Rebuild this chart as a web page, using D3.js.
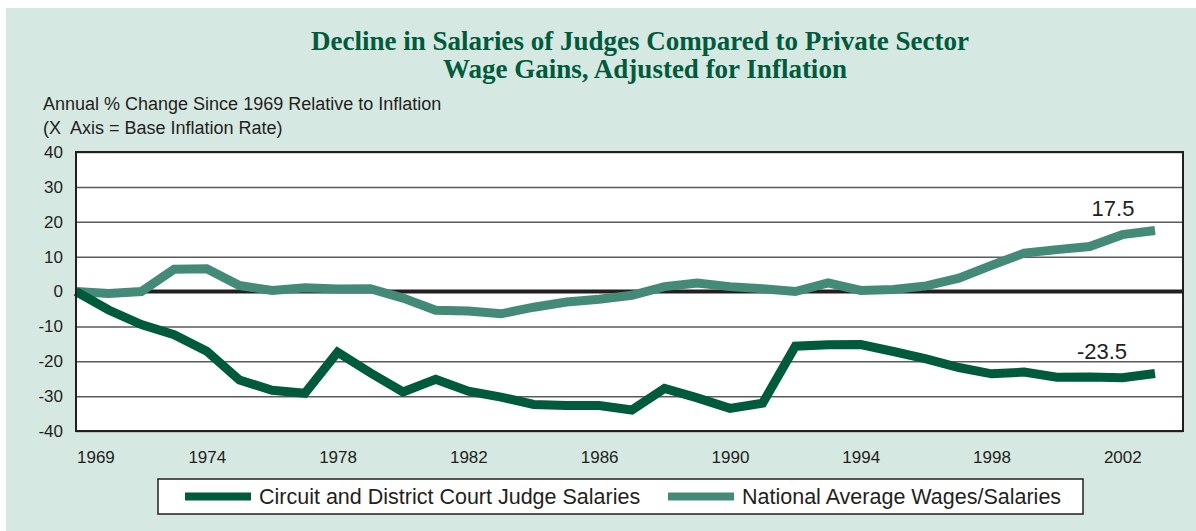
<!DOCTYPE html>
<html>
<head>
<meta charset="utf-8">
<script src="https://cdn.jsdelivr.net/npm/d3@7"></script>
<style>
  body { margin: 0; background: #fff; }
  svg text { font-family: "Liberation Sans", Arial, sans-serif; fill: #231f20; }
  .title { font-family: "Liberation Serif", "Times New Roman", serif; font-weight: bold; fill: #005a3c; }
</style>
</head>
<body>
<div id="chart"></div>
<script>
// data
var years = [1970, 1971, 1972, 1973, 1974, 1975, 1976, 1977, 1978, 1979,
             1980, 1981, 1982, 1983, 1984, 1985, 1986, 1987, 1988, 1989,
             1990, 1991, 1992, 1993, 1994, 1995, 1996, 1997, 1998, 1999,
             2000, 2001, 2002, 2003];
var judgeSalaries = [0, -5.3, -9.5, -12.4, -17.1, -25.4, -28.3, -29.2, -17.4, -23.3,
                     -28.8, -25.2, -28.6, -30.3, -32.4, -32.7, -32.7, -34, -27.8, -30.5,
                     -33.5, -32, -15.7, -15.3, -15.2, -17.2, -19.3, -21.8, -23.6, -23.1,
                     -24.6, -24.5, -24.7, -23.5];
var nationalWages = [0, -0.6, 0, 6.4, 6.5, 1.7, 0.3, 1.1, 0.7, 0.8,
                     -1.9, -5.4, -5.6, -6.4, -4.5, -3, -2.2, -1.1, 1.4, 2.4,
                     1.4, 0.8, 0, 2.5, 0.3, 0.6, 1.6, 3.8, 7.5, 11,
                     12, 12.9, 16.3, 17.5];
var xTickYears = [1974, 1978, 1982, 1986, 1990, 1994, 1998, 2002];
var firstLabel = "1969";
var yTicks = [-40, -30, -20, -10, 0, 10, 20, 30, 40];
var seriesNames = ["Circuit and District Court Judge Salaries", "National Average Wages/Salaries"];
var seriesColors = ["#005a3c", "#448a78"];

var W = 1196, H = 531;
var margin = {top: 152, left: 76, right: 13, bottom: 100};
var width = W - margin.left - margin.right,   // 1107
    height = H - margin.top - margin.bottom;  // 279

var svg = d3.select("#chart").append("svg")
    .attr("width", W).attr("height", H);

// light green panel
svg.append("rect")
    .attr("x", 6).attr("y", 8).attr("width", W - 6).attr("height", H - 8)
    .attr("fill", "#d6e8e2");

// title
svg.append("text").attr("class", "title")
    .attr("x", 640).attr("y", 50).attr("text-anchor", "middle")
    .style("font-size", "27px")
    .text("Decline in Salaries of Judges Compared to Private Sector");
svg.append("text").attr("class", "title")
    .attr("x", 645).attr("y", 78).attr("text-anchor", "middle")
    .style("font-size", "27px")
    .text("Wage Gains, Adjusted for Inflation");

// y axis caption
svg.append("text").attr("x", 43).attr("y", 110).style("font-size", "18px")
    .text("Annual % Change Since 1969 Relative to Inflation");
svg.append("text").attr("x", 43).attr("y", 134).style("font-size", "18px")
    .style("white-space", "pre")
    .text("(X  Axis = Base Inflation Rate)");

var g = svg.append("g").attr("transform", "translate(" + margin.left + "," + margin.top + ")");

var x = d3.scaleLinear().domain([years[0], years[years.length - 1]]).range([0, 1079]);
var y = d3.scaleLinear().domain([-40, 40]).range([height, 0]);

g.append("rect").attr("width", width).attr("height", height).attr("fill", "#fff");

// grid lines
g.append("g")
    .call(d3.axisLeft(y).tickValues(yTicks).tickSize(-width).tickFormat(""))
    .call(s => s.select(".domain").remove())
    .selectAll("line").attr("stroke", "#5a5a5a").attr("stroke-width", 1.5);

// y labels
g.append("g")
    .call(d3.axisLeft(y).tickValues(yTicks).tickSize(0).tickPadding(13).tickFormat(d => String(d)))
    .call(s => s.select(".domain").remove())
    .selectAll("text").style("font-size", "17px").attr("fill", "#231f20")
    .style("font-family", "'Liberation Sans', Arial, sans-serif");

// zero line
g.append("line").attr("x1", 0).attr("x2", width).attr("y1", y(0)).attr("y2", y(0))
    .attr("stroke", "#231f20").attr("stroke-width", 4);

// x labels
var xAxis = g.append("g").attr("transform", "translate(0," + height + ")")
    .call(d3.axisBottom(x).tickValues(xTickYears).tickSize(0).tickPadding(20).tickFormat(d => String(d)));
xAxis.select(".domain").remove();
xAxis.selectAll("text").style("font-size", "17px").attr("fill", "#231f20")
    .style("font-family", "'Liberation Sans', Arial, sans-serif");
g.append("text").attr("x", 1).attr("y", height + 32).style("font-size", "17px").text(firstLabel);

// lines
var line = d3.line().x((d, i) => x(years[i])).y(d => y(d)).curve(d3.curveLinear);
[nationalWages, judgeSalaries].forEach(function (vals, k) {
  g.append("path").datum(vals)
    .attr("fill", "none")
    .attr("stroke", k === 0 ? seriesColors[1] : seriesColors[0])
    .attr("stroke-width", 9)
    .attr("stroke-linejoin", "miter")
    .attr("d", line);
});

// plot border
g.append("rect").attr("width", width).attr("height", height)
    .attr("fill", "none").attr("stroke", "#231f20").attr("stroke-width", 2);

// end labels
var last = years.length - 1;
g.append("text").attr("x", x(years[last]) - 42).attr("y", y(nationalWages[last]) - 14)
    .attr("text-anchor", "middle").style("font-size", "22px").text(nationalWages[last].toFixed(1));
g.append("text").attr("x", x(years[last]) - 53).attr("y", y(judgeSalaries[last]) - 14)
    .attr("text-anchor", "middle").style("font-size", "22px").text(judgeSalaries[last].toFixed(1));

// legend
var legend = svg.append("g");
legend.append("rect").attr("x", 158).attr("y", 479).attr("width", 925).attr("height", 35)
    .attr("fill", "#fff").attr("stroke", "#231f20").attr("stroke-width", 1.5);
var legendX = [185, 668];
seriesNames.forEach(function (name, i) {
  legend.append("line").attr("x1", legendX[i]).attr("x2", legendX[i] + 66)
    .attr("y1", 496.5).attr("y2", 496.5)
    .attr("stroke", seriesColors[i]).attr("stroke-width", 8);
  legend.append("text").attr("x", legendX[i] + 74).attr("y", 504)
    .style("font-size", "21.5px").text(name);
});
</script>
</body>
</html>
